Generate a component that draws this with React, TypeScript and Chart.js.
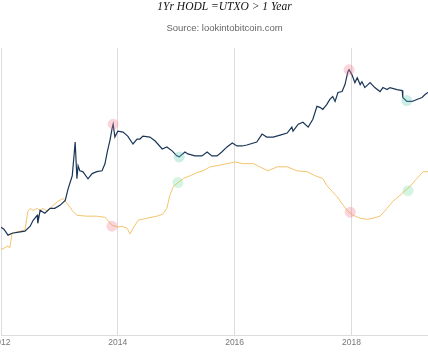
import React, { useEffect, useRef } from "react";
import { Chart, registerables } from "chart.js";

Chart.register(...registerables);

const titleText = "1Yr HODL =UTXO > 1 Year";
const subtitleText = "Source: lookintobitcoin.com";
const tickYears = [2012, 2014, 2016, 2018];

const priceYears = [
  2012.0, 2012.05, 2012.12, 2012.19, 2012.33, 2012.41, 2012.5, 2012.55, 2012.62, 2012.63,
  2012.67, 2012.75, 2012.84, 2012.92, 2013.01, 2013.1, 2013.15, 2013.22, 2013.25, 2013.27,
  2013.3, 2013.32, 2013.35, 2013.4, 2013.49, 2013.56, 2013.64, 2013.73, 2013.78, 2013.82,
  2013.87, 2013.9, 2013.92, 2013.95, 2014.0, 2014.09, 2014.17, 2014.26, 2014.33, 2014.38,
  2014.43, 2014.55, 2014.64, 2014.76, 2014.84, 2014.93, 2015.01, 2015.05, 2015.15, 2015.2,
  2015.32, 2015.44, 2015.53, 2015.61, 2015.7, 2015.78, 2015.87, 2015.96, 2016.04, 2016.13,
  2016.21, 2016.38, 2016.47, 2016.55, 2016.66, 2016.78, 2016.9, 2016.98, 2017.0, 2017.09,
  2017.17, 2017.26, 2017.34, 2017.41, 2017.46, 2017.51, 2017.58, 2017.63, 2017.68, 2017.72,
  2017.77, 2017.84, 2017.89, 2017.94, 2017.96, 2018.01, 2018.06, 2018.1, 2018.15, 2018.18,
  2018.23, 2018.32, 2018.4, 2018.49, 2018.54, 2018.61, 2018.66, 2018.78, 2018.87, 2018.88,
  2018.95, 2019.04, 2019.12, 2019.21, 2019.26, 2019.31, 2019.38,
];
const priceValues = [
  5.9, 5.3, 3.9, 4.3, 4.6, 4.8, 6.2, 8.4, 10.9, 7.2,
  14.1, 12.1, 15.6, 15.6, 18.2, 23.5, 43.4, 84, 235, 480,
  72, 141, 109, 104, 72, 94, 104, 109, 156, 288,
  561, 936, 1208, 621, 844, 802, 654, 434, 561, 561,
  654, 621, 506, 336, 373, 304, 235, 223, 288, 260,
  235, 235, 288, 235, 235, 288, 373, 457, 392, 392,
  413, 481, 724, 621, 621, 688, 763, 1037, 844, 1208,
  1339, 1037, 1560, 3035, 2884, 2604, 3362, 4344, 5063, 3920,
  6213, 6538, 9357, 18195, 20150, 15600, 10364, 13390, 9357, 10908,
  8022, 10364, 8022, 6538, 8022, 7244, 8022, 7244, 6882, 4810,
  3920, 3920, 4344, 4810, 5608, 6213, 6538,
];

const hodlYears = [
  2012.0, 2012.12, 2012.15, 2012.19, 2012.41, 2012.46, 2012.5, 2012.55, 2012.62, 2012.67,
  2012.72, 2012.8, 2012.89, 2012.98, 2013.06, 2013.13, 2013.22, 2013.3, 2013.47, 2013.64,
  2013.78, 2013.83, 2013.9, 2013.99, 2014.07, 2014.16, 2014.21, 2014.26, 2014.35, 2014.5,
  2014.67, 2014.77, 2014.84, 2014.89, 2014.95, 2015.03, 2015.12, 2015.24, 2015.36, 2015.46,
  2015.58, 2015.7, 2015.87, 2016.01, 2016.14, 2016.32, 2016.43, 2016.57, 2016.73, 2016.9,
  2017.07, 2017.24, 2017.38, 2017.51, 2017.58, 2017.67, 2017.75, 2017.86, 2017.94, 2018.03,
  2018.15, 2018.27, 2018.37, 2018.49, 2018.61, 2018.71, 2018.83, 2018.92, 2019.0, 2019.12,
  2019.23, 2019.31, 2019.38,
];
const hodlValues = [
  29.7, 31.0, 30.3, 35.5, 36.6, 43.1, 44.1, 43.4, 44.1, 43.4,
  44.1, 43.1, 45.2, 46.6, 47.6, 45.9, 43.4, 41.7, 41.4, 41.4,
  41.0, 40.0, 38.3, 37.6, 37.9, 37.2, 35.2, 37.2, 40.0, 40.7,
  41.4, 42.1, 44.1, 48.6, 51.7, 53.1, 54.5, 55.5, 56.6, 57.2,
  58.6, 59.0, 59.7, 60.3, 59.7, 59.7, 58.6, 57.2, 58.6, 58.6,
  57.2, 56.9, 55.5, 54.5, 52.1, 50.0, 48.3, 45.2, 43.1, 41.7,
  40.7, 40.3, 40.7, 41.4, 44.1, 46.6, 48.6, 50.3, 51.7, 54.5,
  56.9, 56.9, 57.2,
];

const priceTopYears = [2013.92, 2017.96];
const priceTopValues = [1208, 20150];
const priceBottomYears = [2015.05, 2018.95];
const priceBottomValues = [223, 4100];
const hodlTopYears = [2013.9, 2017.98];
const hodlTopValues = [37.9, 42.8];
const hodlBottomYears = [2015.03, 2018.97];
const hodlBottomValues = [53.1, 50.3];

const zip = (xs: number[], ys: number[]) => xs.map((x, i) => ({ x, y: ys[i] }));

export default function App() {
  const ref = useRef<HTMLCanvasElement | null>(null);

  useEffect(() => {
    if (!ref.current) return;
    const marker = (data: any[], color: string, axis: string) => ({
      type: "line" as const,
      data,
      yAxisID: axis,
      showLine: false,
      pointRadius: 5.5,
      pointHoverRadius: 5.5,
      pointBackgroundColor: color,
      pointBorderWidth: 0,
      borderColor: "transparent",
    });
    const chart = new Chart(ref.current, {
      type: "line",
      data: {
        datasets: [
          marker(zip(priceTopYears, priceTopValues), "rgba(240,120,140,0.3)", "yPrice"),
          marker(zip(priceBottomYears, priceBottomValues), "rgba(90,200,180,0.3)", "yPrice"),
          marker(zip(hodlTopYears, hodlTopValues), "rgba(240,120,140,0.3)", "yHodl"),
          marker(zip(hodlBottomYears, hodlBottomValues), "rgba(120,220,160,0.3)", "yHodl"),
          {
            data: zip(priceYears, priceValues),
            yAxisID: "yPrice",
            borderColor: "#1b3657",
            borderWidth: 1.2,
            pointRadius: 0,
            tension: 0,
          },
          {
            data: zip(hodlYears, hodlValues),
            yAxisID: "yHodl",
            borderColor: "#f3c46c",
            borderWidth: 1,
            pointRadius: 0,
            tension: 0,
          },
        ],
      },
      options: {
        responsive: false,
        animation: false,
        layout: { padding: { left: 41, right: 20, top: 0, bottom: 1.8 } },
        plugins: {
          legend: { display: false },
          tooltip: { enabled: false },
          title: {
            display: true,
            text: titleText,
            color: "#111",
            font: { family: "'Liberation Serif', serif", size: 11.5, style: "italic", weight: "normal" },
            padding: { top: 0, bottom: 4 },
          },
          subtitle: {
            display: true,
            text: subtitleText,
            color: "#666",
            font: { family: "'Liberation Sans', Arial, sans-serif", size: 9.5 },
            padding: { top: 4.8, bottom: 14 },
          },
        },
        scales: {
          x: {
            type: "linear",
            min: 2012,
            max: 2019.654,
            afterBuildTicks: (s: any) => {
              s.ticks = tickYears.map((v) => ({ value: v }));
            },
            ticks: {
              callback: (v: any) => String(v),
              color: "#777",
              font: { family: "'Liberation Sans', Arial, sans-serif", size: 8.5 },
              padding: 3,
              maxRotation: 0,
              autoSkip: false,
            },
            grid: { color: "#dcdcdc", lineWidth: 1, drawTicks: false },
            border: { color: "#dcdcdc" },
          },
          yPrice: {
            type: "logarithmic",
            display: false,
            min: 0.02234,
            max: 62090,
          },
          yHodl: {
            type: "linear",
            display: false,
            min: 0,
            max: 100,
          },
        },
      },
    } as any);
    return () => chart.destroy();
  }, []);

  return (
    <div
      style={{
        position: "fixed",
        left: 0,
        top: 0,
        width: 428,
        height: 353,
        overflow: "hidden",
        background: "#fff",
      }}
    >
      <canvas
        ref={ref}
        width={508}
        height={353}
        style={{ position: "absolute", left: -40, top: 0, width: 508, height: 353 }}
      />
    </div>
  );
}
